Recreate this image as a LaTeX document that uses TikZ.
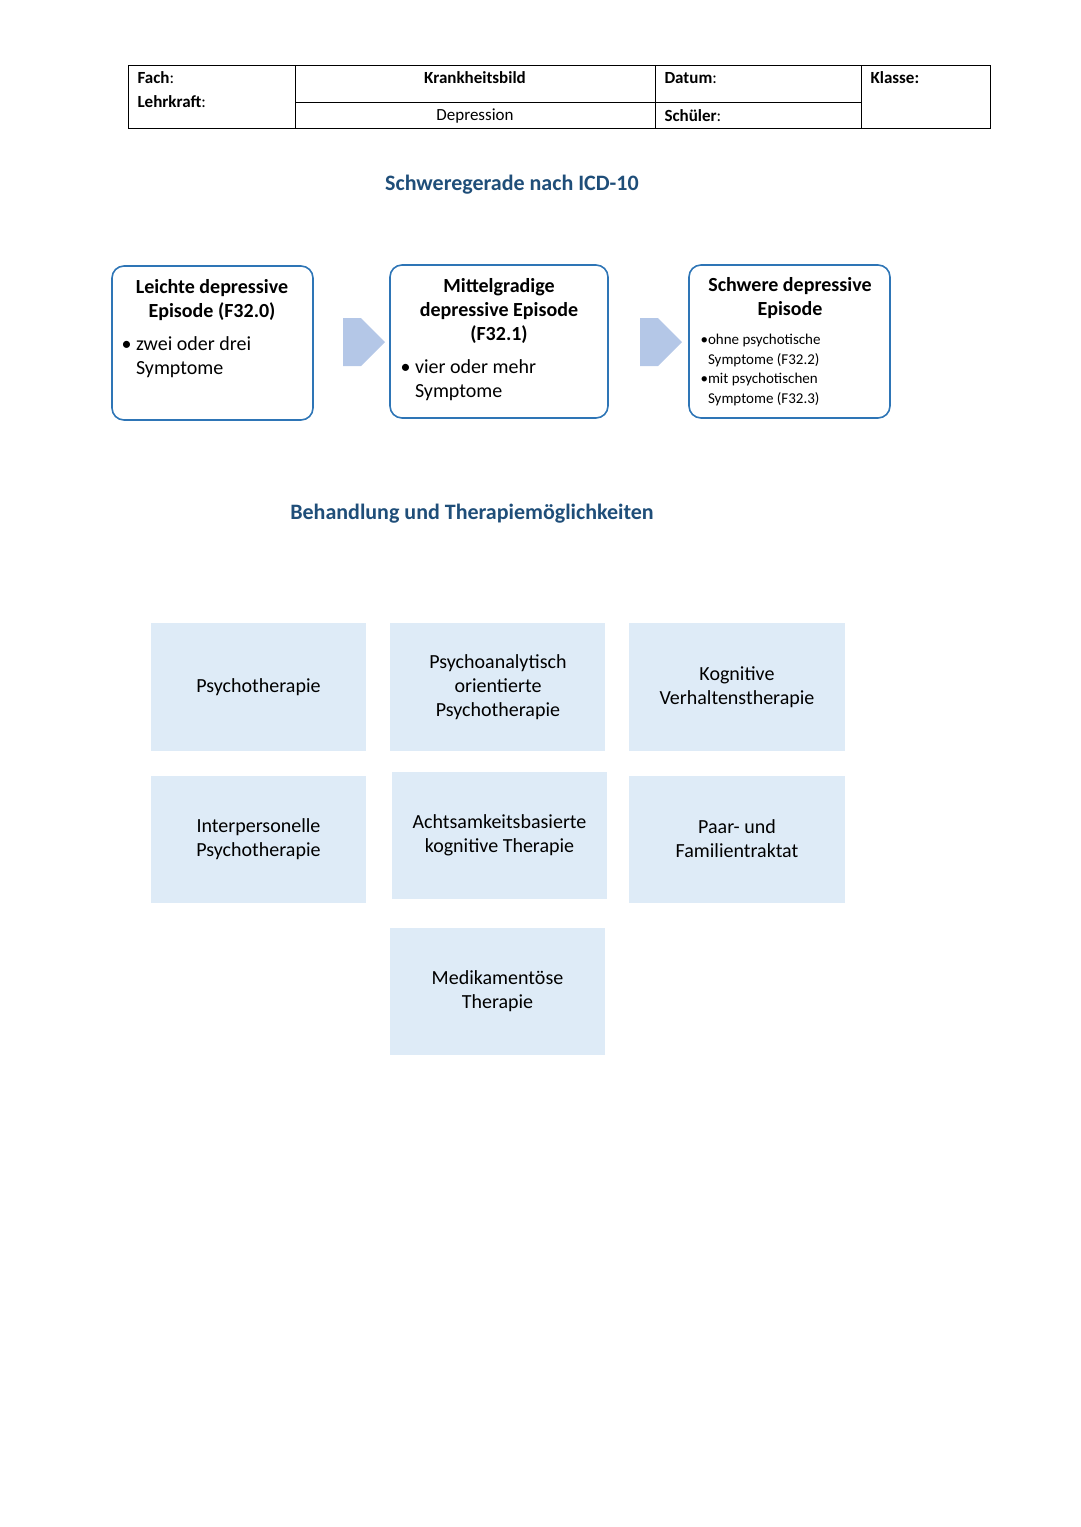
\documentclass[tikz,border=0pt]{standalone}
\usepackage{fontspec}
\setmainfont{Carlito}
\usetikzlibrary{shapes.arrows}
\definecolor{title}{RGB}{31,78,121}
\definecolor{edge}{RGB}{46,117,182}
\definecolor{lfill}{RGB}{222,235,247}
\definecolor{arr}{RGB}{180,199,231}
\begin{document}
\begin{tikzpicture}[x=1pt,y=-1pt,
  hdr/.style={font=\fontsize{17}{20}\selectfont,anchor=west},
  rbox/.style={draw=edge,line width=1.6pt,rounded corners=12pt},
  tbox/.style={fill=lfill},
  ttl/.style={font=\fontsize{22}{26}\selectfont\bfseries,text=title},
  btxt/.style={align=center,font=\fontsize{20}{24}\selectfont},
  bigarrow/.style={single arrow,fill=arr,minimum height=42pt,minimum width=48pt,single arrow head extend=0pt,inner sep=0pt}]
\useasboundingbox (0,0) rectangle (1080,1527);
% header table
\draw[line width=1pt] (128,65) rectangle (990,128);
\draw[line width=1pt] (295,65)--(295,128) (655,65)--(655,128) (861,65)--(861,128) (295,102)--(861,102);
\node[hdr] (fach) at (134,78) {\textbf{Fach}:};
\node[hdr] (lehr) at (134,102) {\textbf{Lehrkraft}:};
\node[hdr,anchor=center] (krank) at (475,78) {\textbf{Krankheitsbild}};
\node[hdr,anchor=center] (dep) at (475,116) {Depression};
\node[hdr] (dat) at (661,78) {\textbf{Datum}:};
\node[hdr] (sch) at (661,116) {\textbf{Schüler}:};
\node[hdr] (kl) at (867,78) {\textbf{Klasse:}};
% title 1
\node[ttl] (t1) at (512,185) {Schweregerade nach ICD-10};
% boxes
\draw[rbox] (112,266) rectangle (313,420);
\node[btxt,font=\fontsize{20}{24}\selectfont\bfseries] (b1t) at (212,300) {Leichte depressive\\Episode (F32.0)};
\node[btxt,align=left,anchor=north west] (b1b) at (118,333) {• zwei oder drei\\\phantom{• }Symptome};
\draw[rbox] (390,265) rectangle (608,418);
\node[btxt,font=\fontsize{20}{24}\selectfont\bfseries] (b2t) at (499,311) {Mittelgradige\\depressive Episode\\(F32.1)};
\node[btxt,align=left,anchor=north west] (b2b) at (397,356) {• vier oder mehr\\\phantom{• }Symptome};
\draw[rbox] (689,265) rectangle (890,418);
\node[btxt,font=\fontsize{20}{24}\selectfont\bfseries] (b3t) at (790,298) {Schwere depressive\\Episode};
\node[align=left,anchor=north west,font=\fontsize{15}{19.5}\selectfont] (b3b) at (697,331) {•ohne psychotische\\\phantom{•}Symptome (F32.2)\\[0pt]•mit psychotischen\\\phantom{•}Symptome (F32.3)};
\node[bigarrow] (a1) at (352,342) {};
\node[bigarrow] (a2) at (649,342) {};
% title 2
\node[ttl] (t2) at (472,514) {Behandlung und Therapiemöglichkeiten};
% grid
\fill[tbox] (151,623) rectangle (366,751);
\node[btxt] (g1) at (258.5,687) {Psychotherapie};
\fill[tbox] (390,623) rectangle (605,751);
\node[btxt] (g2) at (498,687) {Psychoanalytisch\\orientierte\\Psychotherapie};
\fill[tbox] (629,623) rectangle (845,751);
\node[btxt] (g3) at (737,687) {Kognitive\\Verhaltenstherapie};
\fill[tbox] (151,776) rectangle (366,903);
\node[btxt] (g4) at (258.5,839) {Interpersonelle\\Psychotherapie};
\fill[tbox] (392,772) rectangle (607,899);
\node[btxt] (g5) at (499.5,835) {Achtsamkeitsbasierte\\kognitive Therapie};
\fill[tbox] (629,776) rectangle (845,903);
\node[btxt] (g6) at (737,839) {Paar- und\\Familientraktat};
\fill[tbox] (390,928) rectangle (605,1055);
\node[btxt] (g7) at (497.5,991) {Medikamentöse\\Therapie};
\end{tikzpicture}
\end{document}
